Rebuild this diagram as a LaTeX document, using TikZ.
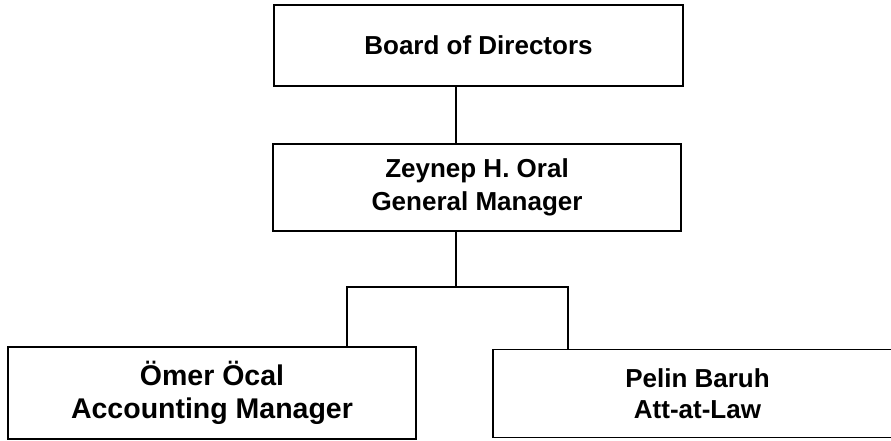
\documentclass[tikz,border=0pt]{standalone}
\usepackage{fontspec}
\setmainfont{Liberation Sans}
\begin{document}
\begin{tikzpicture}[x=1pt,y=-1pt,
  orgbox/.style={draw=black,line width=1.5pt,rectangle,inner sep=0pt,align=center,
    font=\fontsize{26}{33}\selectfont\bfseries},
  bigbox/.style={orgbox,font=\fontsize{28.5}{33}\selectfont\bfseries},
  law/.style={orgbox,font=\fontsize{26}{31}\selectfont\bfseries},
  link/.style={line width=1.5pt,draw=black}]
\useasboundingbox (0,0) rectangle (891,441);
\clip (0,0) rectangle (891,441);
\node[orgbox,minimum width=409pt,minimum height=81pt] (board) at (478.5,45.5) {Board of Directors};
\node[orgbox,minimum width=408pt,minimum height=87pt] (gm) at (477,187.5) {Zeynep H. Oral\\General Manager};
\node[bigbox,minimum width=408pt,minimum height=92pt] (acc) at (212,393) {Ömer Öcal\\Accounting Manager};
\node[law,minimum width=409pt,minimum height=88pt] (att) at (697.5,393.5) {Pelin Baruh\\Att-at-Law};
\coordinate (j) at (456,287);
\coordinate (la) at (347,287);
\coordinate (ra) at (568,287);
\draw[link] (board.south -| j) -- (gm.north -| j);
\draw[link] (gm.south -| j) -- (j);
\draw[link] (j) -- (la) -- (acc.north -| la);
\draw[link] (j) -- (ra) -- (att.north -| ra);
\end{tikzpicture}
\end{document}
